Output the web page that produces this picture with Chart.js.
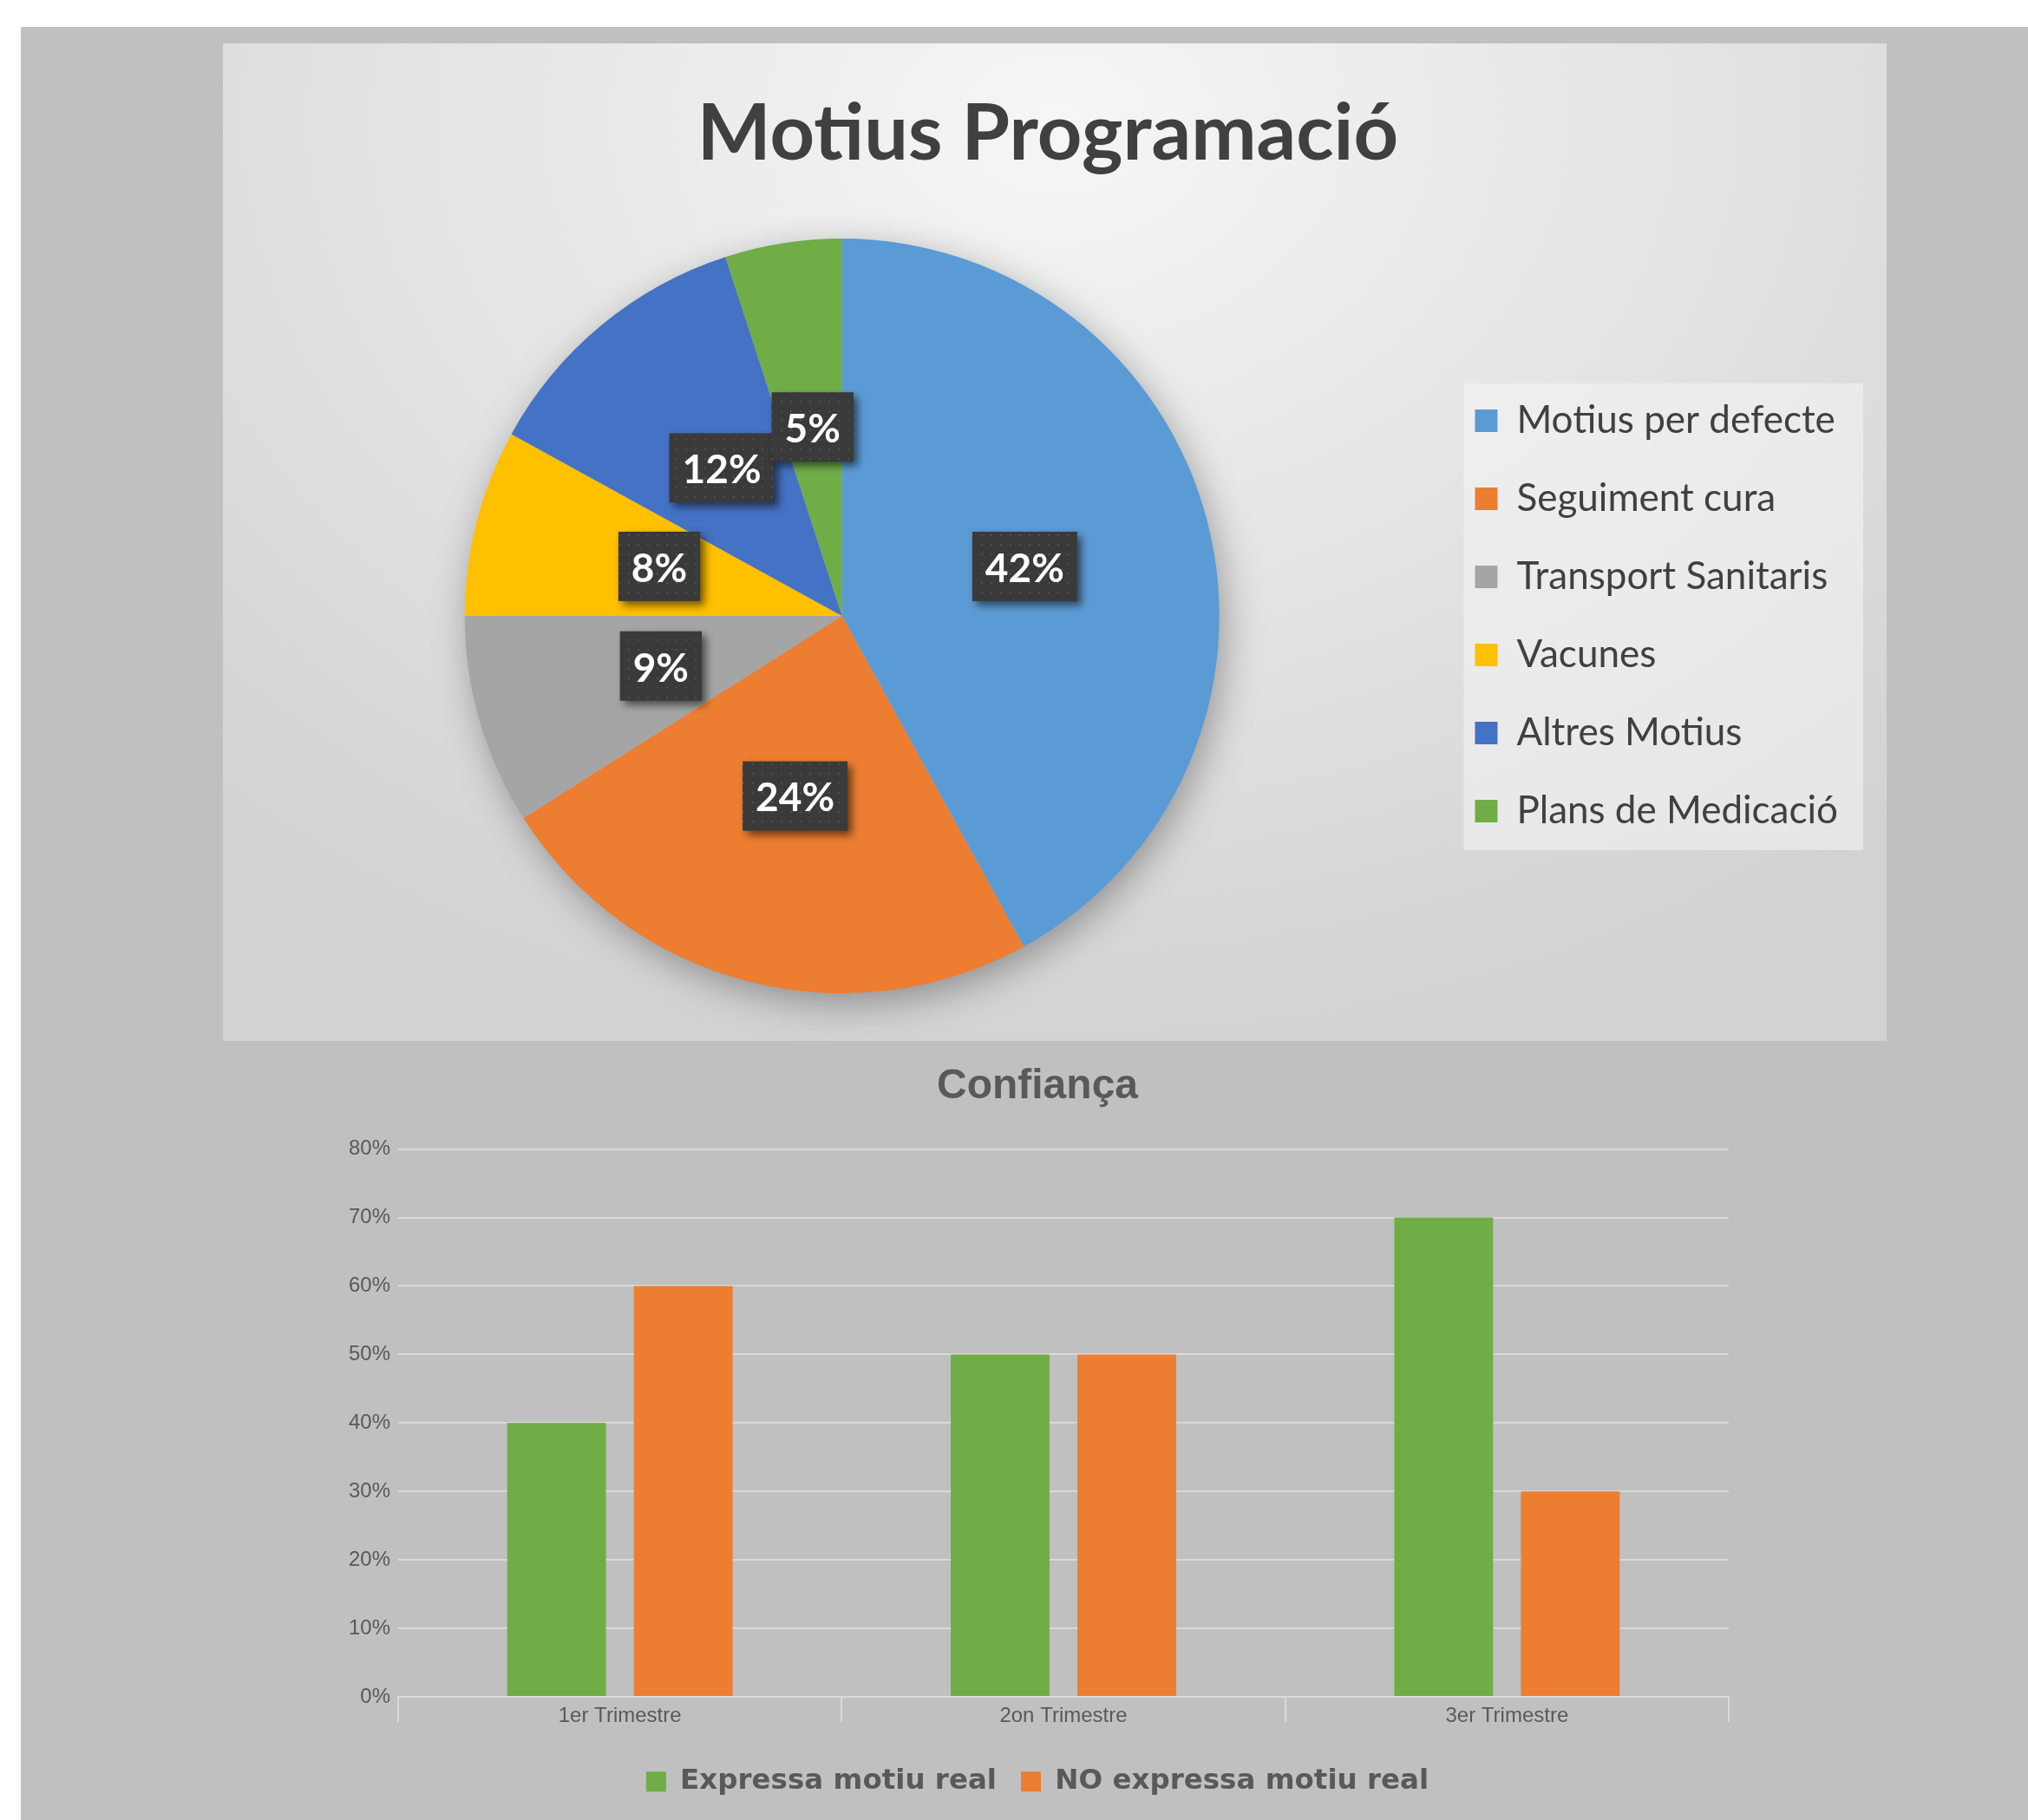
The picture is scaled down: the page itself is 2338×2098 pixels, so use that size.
<!DOCTYPE html>
<html>
<head>
<meta charset="utf-8">
<script src="https://cdn.jsdelivr.net/npm/chart.js@4.4.1/dist/chart.umd.min.js"></script>
<style>
  html, body { margin: 0; padding: 0; background: #fff; overflow: hidden; width: 2338px; height: 2098px; }
  #fons { position: absolute; left: 24px; top: 31px; width: 2314px; height: 2067px; background: #c0c0c0; }
  #panell {
    position: absolute; left: 257px; top: 50px; width: 1918px; height: 1150px;
    background: radial-gradient(ellipse 75% 95% at 50% 8%, #f6f6f6 0%, #e6e6e6 45%, #d2d2d2 100%);
  }
  #pie { position: absolute; left: 0; top: 0; }
  #bar { position: absolute; left: 24px; top: 1205px; }
</style>
</head>
<body>
<div id="fons"></div>
<div id="panell"><canvas id="pie" width="1918" height="1150"></canvas></div>
<canvas id="bar" width="2314" height="893"></canvas>
<script>
// pie: Motius Programació
var MOTIUS = ['Motius per defecte', 'Seguiment cura', 'Transport Sanitaris', 'Vacunes', 'Altres Motius', 'Plans de Medicació'];
var MOTIUS_VALORS = [42, 24, 9, 8, 12, 5];
var MOTIUS_COLORS = ['#5b9bd5', '#ed7d31', '#a5a5a5', '#ffc000', '#4472c4', '#70ad47'];

// barres: Confiança
var TRIMESTRES = ['1er Trimestre', '2on Trimestre', '3er Trimestre'];
var EXPRESSA = [40, 50, 70];
var NO_EXPRESSA = [60, 50, 30];
var Y_MIN = 0, Y_MAX = 80, Y_STEP = 10;

Chart.defaults.font.family = '"Liberation Sans", Arial, sans-serif';

// trama de punts per les etiquetes fosques
var tile = document.createElement('canvas');
tile.width = 11; tile.height = 11;
var tctx = tile.getContext('2d');
tctx.fillStyle = '#3a3a3a';
tctx.fillRect(0, 0, 11, 11);
tctx.fillStyle = '#4e4e4e';
tctx.fillRect(5, 5, 2, 2);

var pieShadow = {
  id: 'pieShadow',
  beforeDatasetsDraw: function(chart) {
    var arc = chart.getDatasetMeta(0).data[0];
    if (!arc) return;
    var c = chart.ctx;
    c.save();
    c.shadowColor = 'rgba(0,0,0,0.35)';
    c.shadowBlur = 45;
    c.shadowOffsetX = 6;
    c.shadowOffsetY = 12;
    c.fillStyle = '#bbb';
    c.beginPath();
    c.arc(arc.x, arc.y, arc.outerRadius - 2, 0, Math.PI * 2);
    c.fill();
    c.restore();
  }
};

var legendBack = {
  id: 'legendBack',
  beforeDraw: function(chart) {
    var hb = chart.legend.legendHitBoxes;
    if (!hb || !hb.length) return;
    var right = 0;
    hb.forEach(function(h) { right = Math.max(right, h.left + h.width); });
    var left = hb[0].left - 13;
    var top = hb[0].top - 21;
    var bottom = hb[hb.length - 1].top + hb[hb.length - 1].height + 23;
    var c = chart.ctx;
    c.save();
    c.fillStyle = 'rgba(245,245,245,0.55)';
    c.fillRect(left, top, right + 29 - left, bottom - top);
    c.restore();
  }
};

var labelBoxes = {
  id: 'labelBoxes',
  afterDatasetsDraw: function(chart) {
    var c = chart.ctx;
    var ds = chart.data.datasets[0].data;
    var total = ds.reduce(function(a, b) { return a + b; }, 0);
    var pattern = c.createPattern(tile, 'repeat');
    c.save();
    c.font = 'bold 46px Lato';
    c.textAlign = 'center';
    c.textBaseline = 'middle';
    chart.getDatasetMeta(0).data.forEach(function(arc, i) {
      var p = arc.tooltipPosition();
      var txt = Math.round(ds[i] / total * 100) + '%';
      var w = c.measureText(txt).width + 30;
      var h = 80;
      c.shadowColor = 'rgba(0,0,0,0.55)';
      c.shadowBlur = 10;
      c.shadowOffsetX = 5;
      c.shadowOffsetY = 5;
      c.fillStyle = pattern;
      c.fillRect(p.x - w / 2, p.y - h / 2 - 3, w, h);
      c.shadowColor = 'transparent';
      c.fillStyle = '#ffffff';
      c.fillText(txt, p.x, p.y);
    });
    c.restore();
  }
};

var pie = new Chart(document.getElementById('pie'), {
  type: 'pie',
  data: {
    labels: MOTIUS,
    datasets: [{
      data: MOTIUS_VALORS,
      backgroundColor: MOTIUS_COLORS,
      borderWidth: 0,
      hoverOffset: 0
    }]
  },
  options: {
    responsive: false,
    animation: false,
    radius: 435,
    layout: { padding: { left: 30, right: 46, top: 0, bottom: 55 } },
    plugins: {
      title: {
        display: true,
        text: 'Motius Programació',
        color: '#404040',
        font: { family: 'Lato', size: 90, weight: 'bold', lineHeight: 1.2 },
        padding: { top: 51, bottom: 66 }
      },
      legend: {
        position: 'right',
        fullSize: false,
        labels: {
          boxWidth: 26,
          boxHeight: 26,
          padding: 46,
          color: '#404040',
          font: { family: 'Lato', size: 44 }
        }
      },
      tooltip: { enabled: false }
    }
  },
  plugins: [legendBack, pieShadow, labelBoxes]
});

var bar = new Chart(document.getElementById('bar'), {
  type: 'bar',
  data: {
    labels: TRIMESTRES,
    datasets: [{
      label: 'Expressa motiu real',
      data: EXPRESSA,
      backgroundColor: '#70ad47',
      categoryPercentage: 0.571,
      barPercentage: 0.78
    }, {
      label: 'NO expressa motiu real',
      data: NO_EXPRESSA,
      backgroundColor: '#ed7d31',
      categoryPercentage: 0.571,
      barPercentage: 0.78
    }]
  },
  options: {
    responsive: false,
    animation: false,
    layout: { padding: { left: 375, right: 345, top: 0, bottom: 18 } },
    scales: {
      x: {
        grid: { offset: true, drawOnChartArea: false, tickLength: 29, color: '#d9d9d9', lineWidth: 2 },
        border: { color: '#d9d9d9', width: 2 },
        ticks: { color: '#595959', padding: -21, font: { size: 24 } },
        afterFit: function(scale) { scale.height = 53.5; }
      },
      y: {
        min: Y_MIN,
        max: Y_MAX,
        ticks: {
          stepSize: Y_STEP,
          padding: 9,
          color: '#595959',
          font: { size: 24 },
          callback: function(v) { return v + '%'; }
        },
        grid: { drawTicks: false, color: '#d9d9d9', lineWidth: 2 },
        border: { display: false },
        afterFit: function(scale) { scale.width = 60; }
      }
    },
    plugins: {
      title: {
        display: true,
        text: 'Confiança',
        color: '#595959',
        font: { size: 48, weight: 'bold', lineHeight: 1.2 },
        padding: { top: 19, bottom: 43 }
      },
      legend: {
        position: 'bottom',
        labels: {
          boxWidth: 23,
          boxHeight: 23,
          padding: 28,
          color: '#595959',
          font: { family: '"DejaVu Sans", sans-serif', size: 32.5, weight: 'bold' }
        }
      },
      tooltip: { enabled: false }
    }
  }
});
</script>
</body>
</html>
